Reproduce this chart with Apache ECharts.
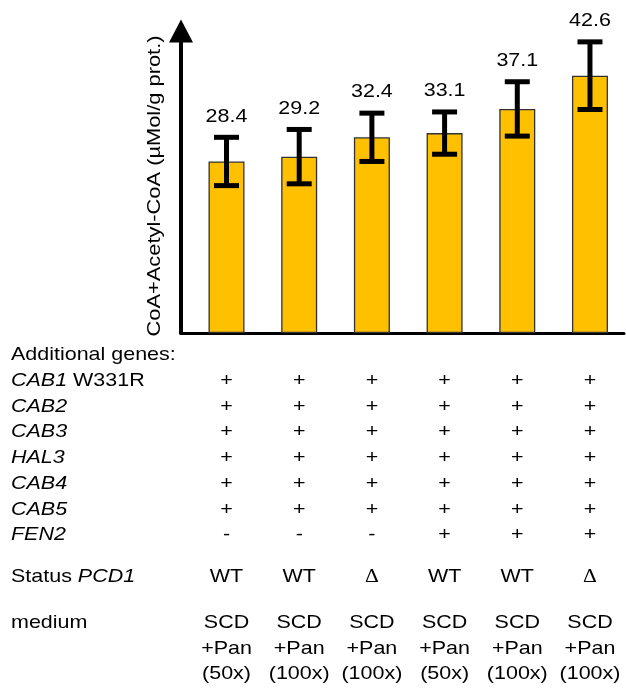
<!DOCTYPE html>
<html><head><meta charset="utf-8">
<script src="https://cdn.jsdelivr.net/npm/echarts@6/dist/echarts.min.js"></script>
<style>html,body{margin:0;padding:0;background:#fff}#c{width:626px;height:689px}</style>
</head><body><div id="c"></div>
<script>
// ---- data ----
const categories = ['1', '2', '3', '4', '5', '6'];
const values = [28.4, 29.2, 32.4, 33.1, 37.1, 42.6];
const errors = [4.0, 4.5, 4.0, 3.5, 4.5, 5.6];
const valueLabels = ['28.4', '29.2', '32.4', '33.1', '37.1', '42.6'];
const yAxisTitle = 'CoA+Acetyl-CoA (\u00b5Mol/g prot.)';
const tableHeader = 'Additional genes:';
const geneNames = ['CAB1', 'CAB2', 'CAB3', 'HAL3', 'CAB4', 'CAB5', 'FEN2'];
const geneSuffix = [' W331R', '', '', '', '', '', ''];
const geneMarks = [
  ['+', '+', '+', '+', '+', '+'],
  ['+', '+', '+', '+', '+', '+'],
  ['+', '+', '+', '+', '+', '+'],
  ['+', '+', '+', '+', '+', '+'],
  ['+', '+', '+', '+', '+', '+'],
  ['+', '+', '+', '+', '+', '+'],
  ['-', '-', '-', '+', '+', '+']
];
const statusLabelPlain = 'Status ';
const statusLabelItalic = 'PCD1';
const pcd1Status = ['WT', 'WT', '\u0394', 'WT', 'WT', '\u0394'];
const mediumLabel = 'medium';
const mediumBase = ['SCD', 'SCD', 'SCD', 'SCD', 'SCD', 'SCD'];
const mediumSupplement = ['+Pan', '+Pan', '+Pan', '+Pan', '+Pan', '+Pan'];
const mediumDilution = ['(50x)', '(100x)', '(100x)', '(50x)', '(100x)', '(100x)'];

// ---- styling ----
const FONT_FAMILY = '"Liberation Sans", Arial, sans-serif';
const FS = 19;
const SX = 1.13;
const BAR_COLOR = '#FFC000';

const chart = echarts.init(document.getElementById('c'), null, {renderer: 'canvas'});

function txt(x, y, text, opts) {
  opts = opts || {};
  return {
    type: 'text', x: x, y: y, scaleX: opts.sx || SX, rotation: opts.rotation || 0,
    silent: true,
    style: Object.assign({
      text: text, x: 0, y: 0,
      font: (opts.italic ? 'italic ' : '') + (opts.fs || FS) + 'px ' + (opts.family || FONT_FAMILY),
      fill: '#000',
      align: opts.align || 'center', textAlign: opts.align || 'center',
      verticalAlign: 'middle', textVerticalAlign: 'middle'
    }, opts.style || {})
  };
}

chart.setOption({
  animation: false,
  backgroundColor: '#fff',
  grid: {left: 181, right: 2, top: 31, bottom: 356, containLabel: false},
  xAxis: {
    type: 'value', min: -0.626, max: 5.468,
    axisLine: {show: true, onZero: false, lineStyle: {color: '#000', width: 3}},
    axisTick: {show: false}, axisLabel: {show: false}, splitLine: {show: false}
  },
  yAxis: {
    type: 'value', min: 0, max: 50,
    axisLine: {show: true, onZero: false, lineStyle: {color: '#000', width: 4},
      symbol: ['none', 'triangle'], symbolSize: [24, 23]},
    axisTick: {show: false}, axisLabel: {show: false}, splitLine: {show: false}
  },
  series: [
    {
      type: 'bar', name: 'value', barWidth: 36,
      data: values.map((v, i) => [i, v]),
      itemStyle: {color: BAR_COLOR, borderColor: '#333333', borderWidth: 1.3}
    },
    {
      type: 'custom', name: 'error',
      data: values.map((v, i) => [i, v - errors[i], v + errors[i]]),
      z: 5,
      renderItem: function (params, api) {
        const x = api.value(0);
        const lo = api.coord([x, api.value(1)]);
        const hi = api.coord([x, api.value(2)]);
        const hw = 12.5;
        const st = {stroke: '#000', lineWidth: 5};
        return {
          type: 'group', children: [
            {type: 'line', shape: {x1: lo[0], y1: lo[1], x2: hi[0], y2: hi[1]}, style: st},
            {type: 'line', shape: {x1: lo[0] - hw, y1: lo[1], x2: lo[0] + hw, y2: lo[1]}, style: st},
            {type: 'line', shape: {x1: hi[0] - hw, y1: hi[1], x2: hi[0] + hw, y2: hi[1]}, style: st},
            txt(hi[0], hi[1] - 21, valueLabels[params.dataIndex])
          ]
        };
      }
    }
  ]
});

// ---- table under the chart, columns taken from the x axis ----
const colX = categories.map((c, i) => chart.convertToPixel({xAxisIndex: 0}, i));
const LEFT = 11;
const g = [];
g.push(txt(155, 186, yAxisTitle, {rotation: Math.PI / 2, sx: 1.15}));
g.push(txt(LEFT, 355, tableHeader, {align: 'left'}));
const geneRowY = [381, 407, 432, 458, 484, 510, 535];
const richStyle = {rich: {
  i: {font: 'italic ' + FS + 'px ' + FONT_FAMILY, fill: '#000'},
  n: {font: FS + 'px ' + FONT_FAMILY, fill: '#000'}
}};
geneNames.forEach((name, r) => {
  g.push(txt(LEFT, geneRowY[r], '{i|' + name + '}{n|' + geneSuffix[r] + '}', {align: 'left', style: richStyle}));
  geneMarks[r].forEach((m, c) => g.push(txt(colX[c], geneRowY[r], m)));
});
g.push(txt(LEFT, 577, '{n|' + statusLabelPlain + '}{i|' + statusLabelItalic + '}', {align: 'left', style: richStyle}));
pcd1Status.forEach((s, c) => {
  const isDelta = s === '\u0394';
  g.push(txt(colX[c], 577, s, isDelta ? {family: '"Liberation Serif", "DejaVu Serif", serif'} : {}));
});
g.push(txt(LEFT, 623, mediumLabel, {align: 'left'}));
categories.forEach((cat, c) => {
  g.push(txt(colX[c], 623, mediumBase[c]));
  g.push(txt(colX[c], 649, mediumSupplement[c]));
  g.push(txt(colX[c], 674, mediumDilution[c]));
});
chart.setOption({graphic: {elements: g}});
</script>
</body></html>
